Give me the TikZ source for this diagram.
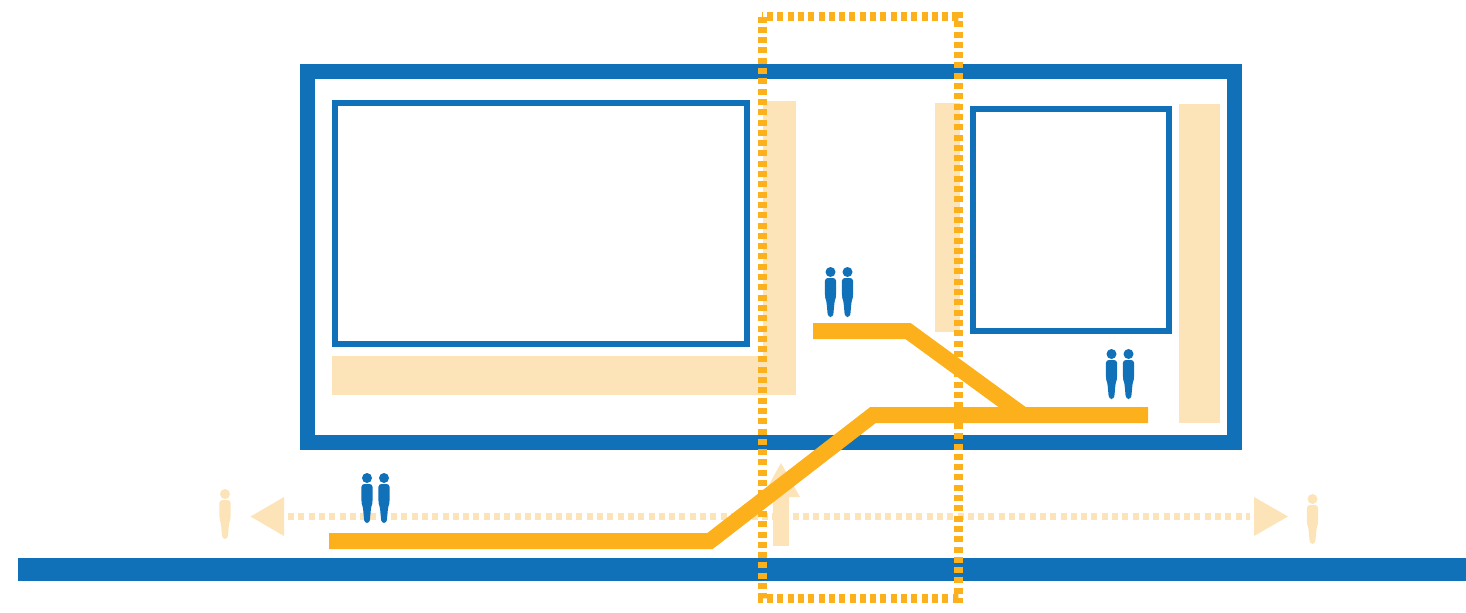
\documentclass[tikz,border=0pt]{standalone}
\definecolor{wallblue}{HTML}{1070B8}
\definecolor{rampgold}{HTML}{FBB01C}
\definecolor{palegold}{HTML}{FDE4B8}
\tikzset{
  wall/.style={draw=wallblue,line width=7.5pt},
  room/.style={draw=wallblue,line width=3pt},
  ramp/.style={draw=rampgold,line width=8pt},
  zoneline/.style={draw=rampgold,line width=4.5pt,dash pattern=on 3pt off 2.15pt},
  walkline/.style={draw=palegold,line width=3.2pt,dash pattern=on 3pt off 2.15pt},
  paleblock/.style={fill=palegold},
}
\newcommand{\person}[3]{%
  \fill[#3] (#1,#2-45) circle (5);
  \fill[#3,rounded corners=1.5pt] (#1-5.6,#2-39) -- (#1+5.6,#2-39) -- (#1+5.6,#2-20) -- (#1+4.2,#2-17) -- (#1+2.6,#2) -- (#1-2.6,#2) -- (#1-4.2,#2-17) -- (#1-5.6,#2-20) -- cycle;
}
\begin{document}
\begin{tikzpicture}[x=0.5pt,y=-0.5pt]
  \useasboundingbox (0,0) rectangle (1466,612);
  % pale zones behind the building
  \fill[paleblock] (332,356) rectangle (796,395);
  \fill[paleblock] (763,101) rectangle (796,395);
  \fill[paleblock] (935,103) rectangle (960,332);
  \fill[paleblock] (1179,104) rectangle (1220,423);
  % pale walking directions
  \draw[walkline] (288,516.5) -- (1250,516.5);
  \fill[paleblock] (250.5,516.5) -- (284,497) -- (284,536) -- cycle;
  \fill[paleblock] (1288,516.5) -- (1254,497) -- (1254,536) -- cycle;
  \fill[paleblock] (773,546) rectangle (789,495);
  \fill[paleblock] (781,463) -- (800,497) -- (762,497) -- cycle;
  \person{225}{539}{palegold}
  \person{1312.5}{544}{palegold}
  % building and street
  \draw[wall] (307.5,71.5) rectangle (1234.5,442.5);
  \draw[room] (335,103) rectangle (747,344);
  \draw[room] (972.5,108.5) rectangle (1168.5,330.5);
  \fill[wallblue] (18,557.5) rectangle (1466,581);
  % dotted zone on top of the walls
  \draw[zoneline] (762,16.5) rectangle (958,598.5);
  % ramps
  \draw[ramp] (329,541) -- (710,541) -- (873,415) -- (1148,415);
  \draw[ramp] (813,331) -- (908,331) -- (1023,415);
  % people
  \person{367}{523}{wallblue}
  \person{384}{523}{wallblue}
  \person{830.5}{317}{wallblue}
  \person{847.5}{317}{wallblue}
  \person{1111.5}{399}{wallblue}
  \person{1128.5}{399}{wallblue}
\end{tikzpicture}
\end{document}
